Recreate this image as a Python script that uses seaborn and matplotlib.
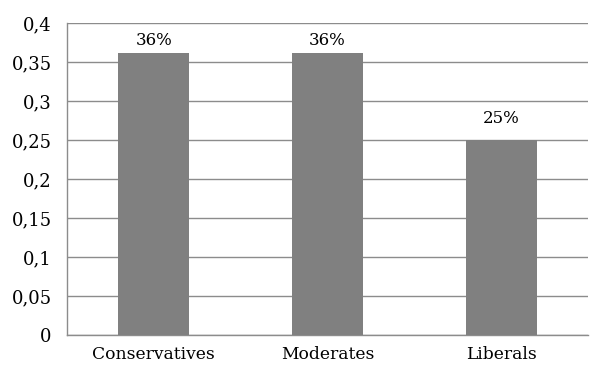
import matplotlib
matplotlib.use("Agg")
import matplotlib.pyplot as plt
from matplotlib.ticker import FuncFormatter, FixedLocator, MultipleLocator
import seaborn as sns
import pandas as pd

groups = ["Conservatives", "Moderates", "Liberals"]
shares = [0.3615, 0.3615, 0.25]

sns.set_theme(style="white")
plt.rcParams["font.family"] = ["DejaVu Serif"]

df = pd.DataFrame({"group": groups, "share": shares})

fig = plt.figure(figsize=(5.93, 3.67), dpi=100)
ax = fig.add_axes([67 / 593, 32 / 367, 521 / 593, 312 / 367])

sns.barplot(data=df, x="group", y="share", color="#808080", saturation=1,
            width=0.41, edgecolor="none", ax=ax, zorder=3)

grid_c = "#8c8c8c"
ax.set_ylim(0, 0.4)
ax.set_xlim(-0.5, 2.5)
ax.yaxis.set_major_locator(MultipleLocator(0.05))
ax.yaxis.set_major_formatter(FuncFormatter(lambda v, p: f"{v:.2f}".rstrip("0").rstrip(".").replace(".", ",") if v else "0"))
ax.grid(axis="y", color=grid_c, linewidth=1.0, zorder=0)
ax.set_axisbelow(True)

for side in ["top", "right"]:
    ax.spines[side].set_visible(False)
ax.spines["left"].set_color(grid_c)
ax.spines["bottom"].set_color(grid_c)
ax.spines["left"].set_linewidth(1.0)
ax.spines["bottom"].set_linewidth(1.0)

ax.xaxis.set_minor_locator(FixedLocator([-0.5, 0.5, 1.5, 2.5]))
ax.tick_params(axis="x", which="major", length=0, pad=8, labelsize=12.3, colors="black")
ax.tick_params(axis="x", which="minor", length=5, width=1, color=grid_c, direction="out")
ax.tick_params(axis="y", length=5, width=1, color=grid_c, direction="out", pad=6,
               labelsize=13, labelcolor="black")
ax.tick_params(axis="x", labelcolor="black")
ax.set_xlabel("")
ax.set_ylabel("")

# value labels above bars, kept inside the plot area near the top
for i, v in enumerate(shares):
    ax.text(i, min(v + 0.017, 0.367), f"{v:.0%}", ha="center", va="bottom",
            fontsize=12, color="black")

fig.savefig("out.png", dpi=100)
